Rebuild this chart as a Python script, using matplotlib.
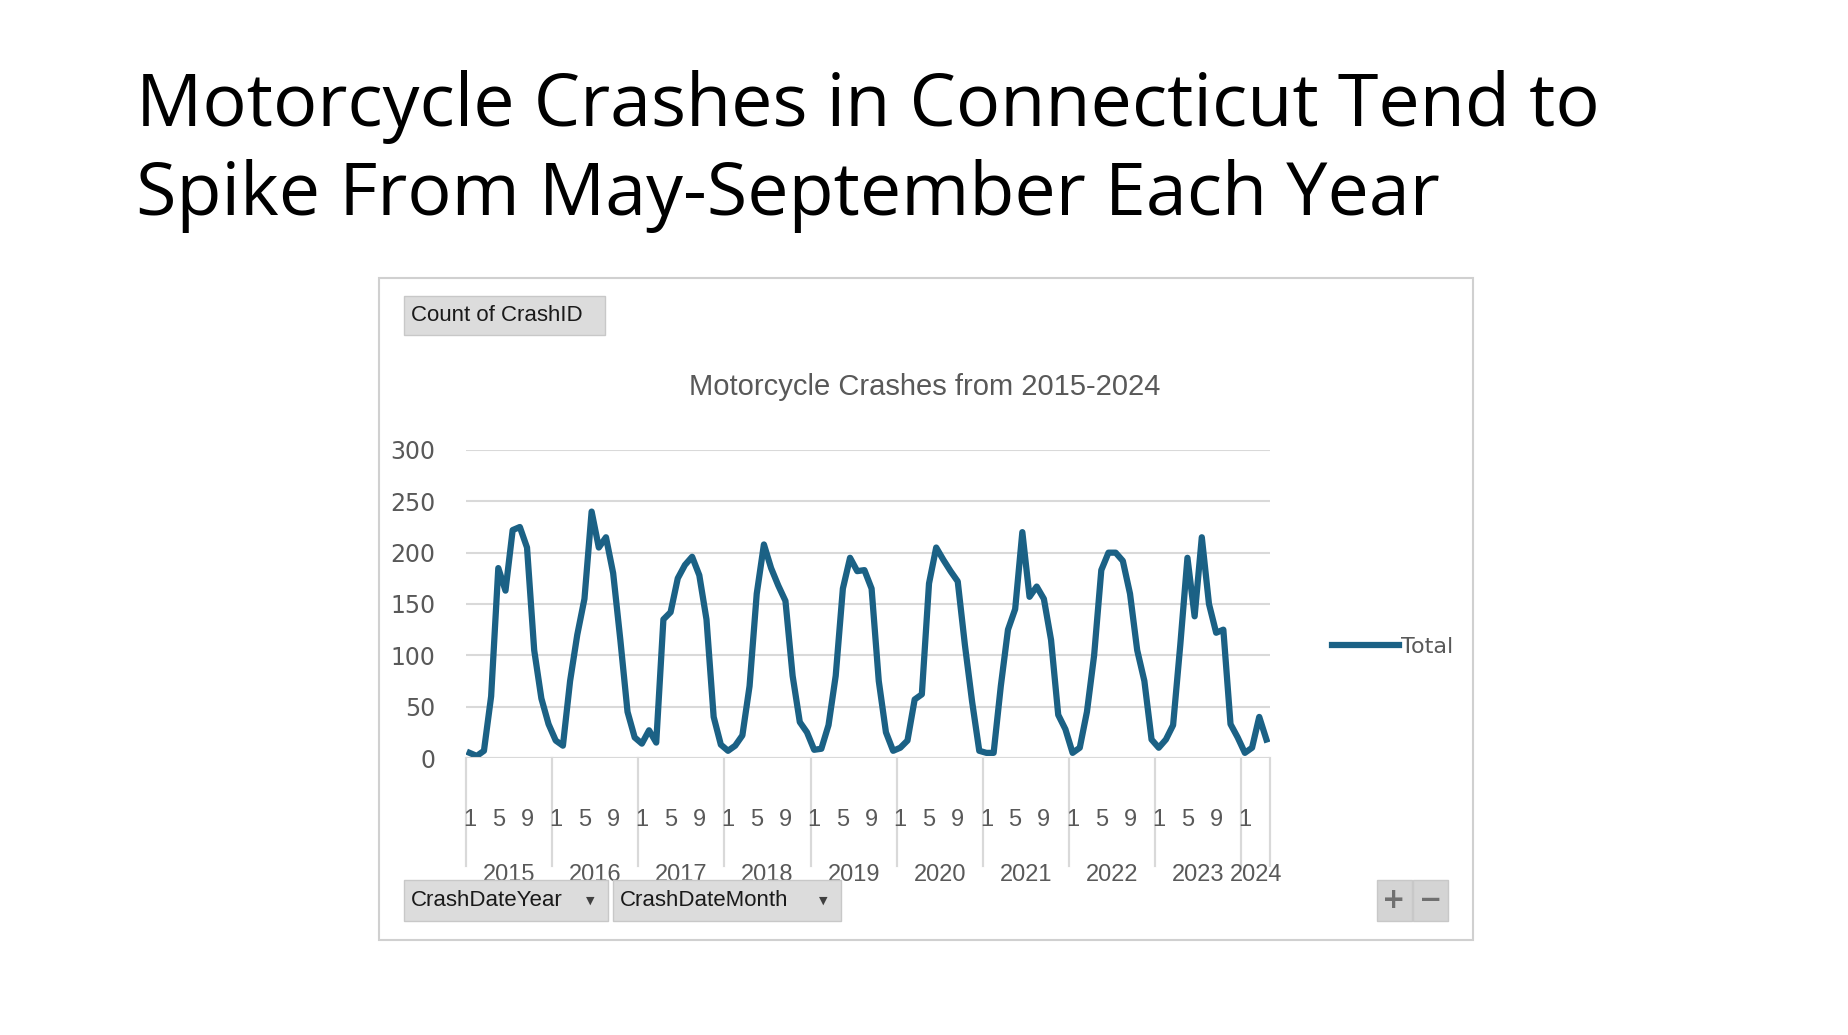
import numpy as np
import matplotlib.pyplot as plt
from matplotlib.patches import Rectangle

# monthly motorcycle crash counts, Jan 2015 - Apr 2024
y2015 = [5, 2, 7, 60, 185, 163, 222, 225, 205, 105, 58, 33]
y2016 = [17, 12, 75, 120, 155, 240, 205, 215, 180, 115, 45, 20]
y2017 = [14, 27, 15, 135, 142, 175, 188, 196, 178, 135, 40, 13]
y2018 = [7, 12, 22, 70, 160, 208, 185, 168, 153, 80, 35, 25]
y2019 = [8, 9, 32, 80, 165, 195, 182, 183, 165, 75, 25, 7]
y2020 = [10, 17, 57, 62, 170, 205, 193, 182, 172, 110, 55, 7]
y2021 = [5, 5, 70, 125, 145, 220, 157, 167, 155, 115, 42, 28]
y2022 = [5, 10, 45, 100, 183, 200, 200, 192, 160, 105, 75, 18]
y2023 = [10, 18, 32, 110, 195, 138, 215, 150, 122, 125, 33, 20]
y2024 = [5, 10, 40, 18]
years = ["2015", "2016", "2017", "2018", "2019", "2020", "2021", "2022", "2023", "2024"]
series = [y2015, y2016, y2017, y2018, y2019, y2020, y2021, y2022, y2023, y2024]

W, H = 1848, 1035
fig = plt.figure(figsize=(W / 100, H / 100), dpi=100)
fig.patch.set_facecolor("white")

def fx(px): return px / W
def fy(py): return 1 - py / H

# slide title
fig.text(fx(136), fy(107), "Motorcycle Crashes in Connecticut Tend to", fontsize=53,
         family="Open Sans", va="center", ha="left", color="black")
fig.text(fx(136), fy(196), "Spike From May-September Each Year", fontsize=53,
         family="Open Sans", va="center", ha="left", color="black")

# chart frame
fig.patches.append(Rectangle((fx(379), fy(940)), fx(1473 - 379), (940 - 278) / H,
                             transform=fig.transFigure, fill=False,
                             edgecolor="#d0d0d0", linewidth=1.5))

def button(x0, x1, y0, y1, label, arrow=False):
    fig.patches.append(Rectangle((fx(x0), fy(y1)), fx(x1 - x0), (y1 - y0) / H,
                                 transform=fig.transFigure, facecolor="#dcdcdc",
                                 edgecolor="#c8c8c8", linewidth=1))
    fig.text(fx(x0 + 7), fy((y0 + y1) / 2), label, fontsize=16, family="Liberation Sans",
             va="center", ha="left", color="#1a1a1a")
    if arrow:
        fig.text(fx(x1 - 18), fy((y0 + y1) / 2), "\u25BC", fontsize=8,
                 va="center", ha="center", color="#404040")

button(404, 605, 296, 335, "Count of CrashID")
button(404, 608, 880, 921, "CrashDateYear", arrow=True)
button(613, 841, 880, 921, "CrashDateMonth", arrow=True)
fig.patches.append(Rectangle((fx(1377), fy(921)), fx(35), 41 / H, transform=fig.transFigure,
                             facecolor="#d4d4d4", edgecolor="#c8c8c8"))
fig.patches.append(Rectangle((fx(1413), fy(921)), fx(35), 41 / H, transform=fig.transFigure,
                             facecolor="#d4d4d4", edgecolor="#c8c8c8"))
fig.text(fx(1394), fy(900), "+", fontsize=20, weight="bold", ha="center", va="center", color="#707070")
fig.text(fx(1431), fy(900), "\u2212", fontsize=20, weight="bold", ha="center", va="center", color="#707070")

fig.text(fx(925), fy(387), "Motorcycle Crashes from 2015-2024", fontsize=21,
         family="Liberation Sans", ha="center", va="center", color="#595959")

# plot area
ax = fig.add_axes([fx(466), fy(758), fx(1270 - 466), (758 - 450) / H])
values = [v for s in series for v in s]
x = np.arange(len(values))
line, = ax.plot(x, values, color="#1b6185", linewidth=4.5, solid_joinstyle="round", label="Total")
ax.set_xlim(-0.5, len(values) - 0.5)
ax.set_ylim(0, 300)
ax.set_yticks(range(0, 301, 50))
ax.yaxis.grid(True, color="#d9d9d9", linewidth=1.5)
ax.set_axisbelow(True)
for s in ax.spines.values():
    s.set_visible(False)
ax.tick_params(axis="y", length=0, labelsize=17, labelcolor="#595959", pad=22)
ax.set_xticks([])
ax.axhline(0, color="#d9d9d9", linewidth=1.5)

# multi-level category axis
trans = ax.get_xaxis_transform()
start = 0
bounds = [-0.5]
for yr, s in zip(years, series):
    for m in range(len(s)):
        if m % 4 == 0:
            ax.text(start + m, -0.2, str(m + 1), transform=trans, ha="center", va="center",
                    fontsize=17, color="#595959", family="Liberation Sans")
    ax.text(start + (len(s) - 1) / 2, -0.38, yr, transform=trans, ha="center", va="center",
            fontsize=17, color="#595959", family="Liberation Sans")
    start += len(s)
    bounds.append(start - 0.5)
for b in bounds:
    ax.plot([b, b], [0, -0.35 if b == bounds[-2] else -0.35], transform=trans,
            color="#d9d9d9", linewidth=1.5, clip_on=False)
    ax.plot([b, b], [-0.35, -0.35], transform=trans, clip_on=False)
for b in bounds:
    ax.plot([b, b], [0, -0.35], transform=trans, color="#d9d9d9", linewidth=1.5, clip_on=False)

ax.legend(handles=[line], loc="center left", bbox_to_anchor=(fx(1312 - 466) / fx(804), 0.36),
          frameon=False, fontsize=16, handlelength=3, handletextpad=0.1,
          labelcolor="#595959")

fig.savefig("out.png", dpi=100, facecolor="white")
